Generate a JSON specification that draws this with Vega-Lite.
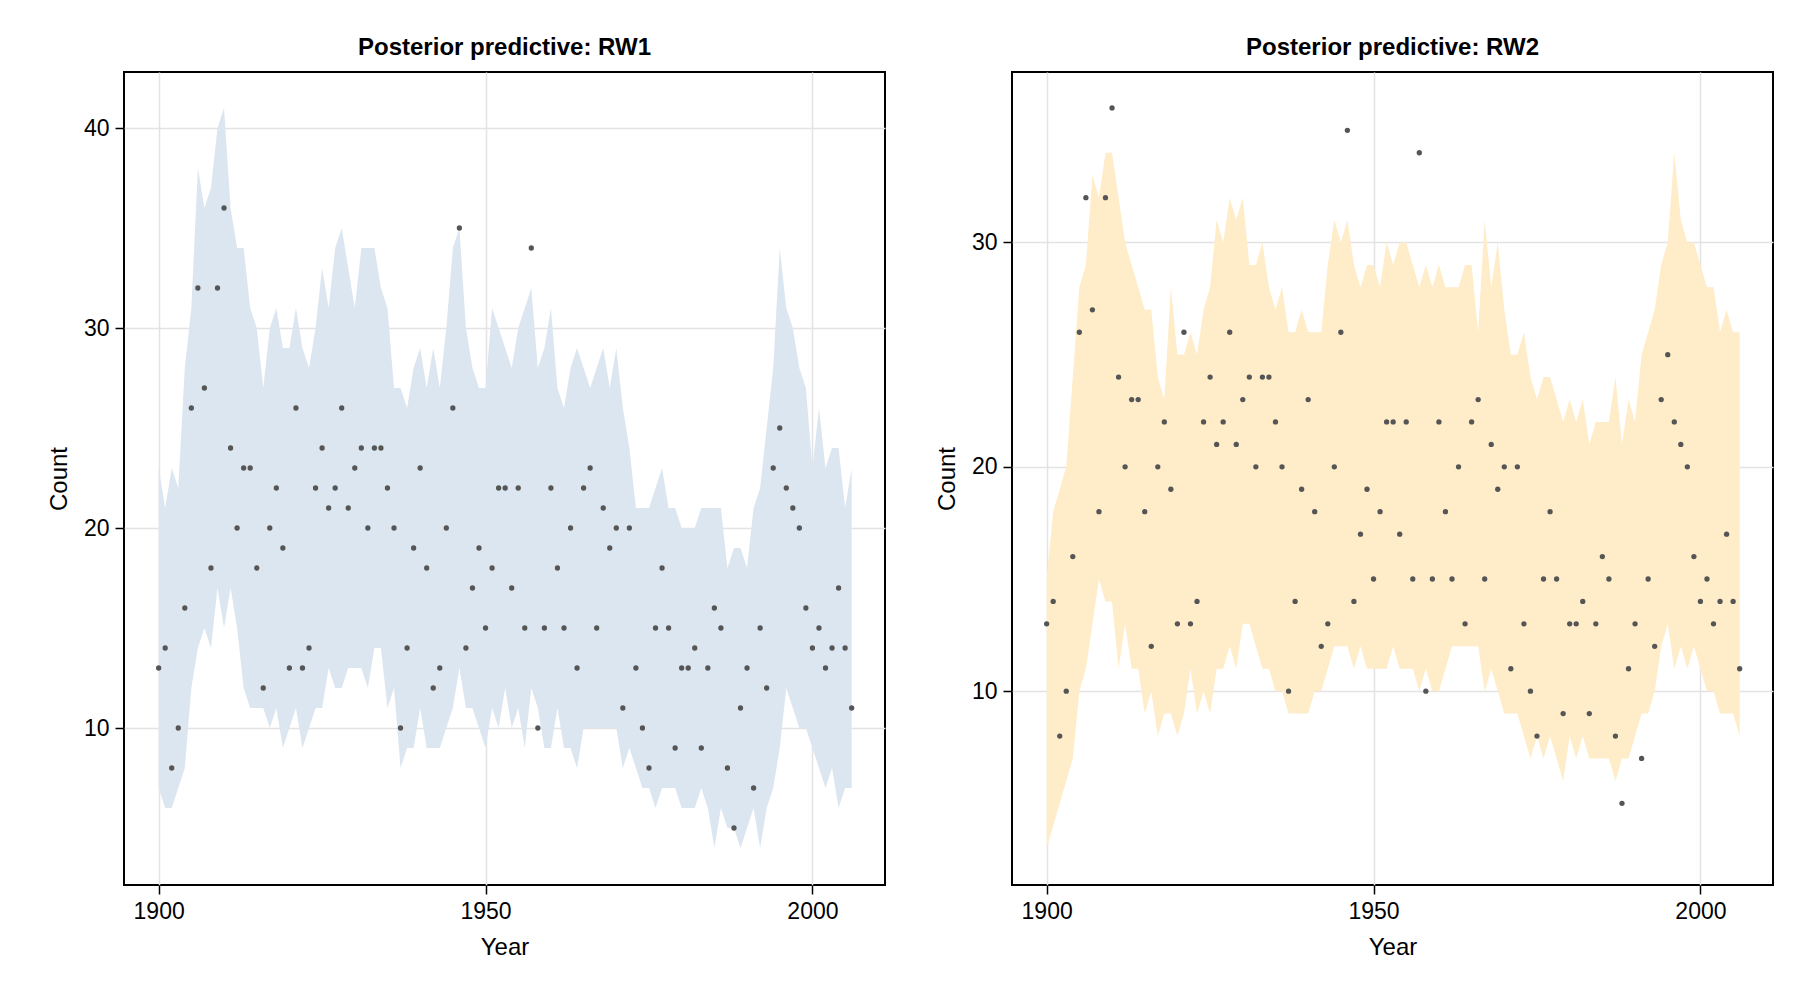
{
"$schema":"https://vega.github.io/schema/vega-lite/v6.json",
"padding":{"left":46,"top":35,"right":10,"bottom":10},
"spacing":48,
"background":"white",
"config":{"font":"Liberation Sans","view":{"stroke":"black","strokeWidth":2},
"axis":{"grid":true,"gridColor":"#e3e3e3","gridWidth":1.5,"domain":false,"tickColor":"black","tickSize":9,"tickWidth":1.5,"labelFontSize":23,"titleFontSize":24,"titleFontWeight":"normal","labelColor":"black","titleColor":"black","labelPadding":6,"titlePadding":12},
"title":{"fontSize":24,"fontWeight":"bold","offset":12}},
"data":{"values":[
{"year":1900,"count":13,"lo1":7,"hi1":23,"lo2":3,"hi2":15},
{"year":1901,"count":14,"lo1":6,"hi1":21,"lo2":4,"hi2":18},
{"year":1902,"count":8,"lo1":6,"hi1":23,"lo2":5,"hi2":19},
{"year":1903,"count":10,"lo1":7,"hi1":22,"lo2":6,"hi2":20},
{"year":1904,"count":16,"lo1":8,"hi1":28,"lo2":7,"hi2":24},
{"year":1905,"count":26,"lo1":12,"hi1":31,"lo2":10,"hi2":28},
{"year":1906,"count":32,"lo1":14,"hi1":38,"lo2":11,"hi2":29},
{"year":1907,"count":27,"lo1":15,"hi1":36,"lo2":13,"hi2":33},
{"year":1908,"count":18,"lo1":14,"hi1":37,"lo2":15,"hi2":32},
{"year":1909,"count":32,"lo1":17,"hi1":40,"lo2":14,"hi2":34},
{"year":1910,"count":36,"lo1":15,"hi1":41,"lo2":14,"hi2":34},
{"year":1911,"count":24,"lo1":17,"hi1":36,"lo2":11,"hi2":32},
{"year":1912,"count":20,"lo1":15,"hi1":34,"lo2":13,"hi2":30},
{"year":1913,"count":23,"lo1":12,"hi1":34,"lo2":11,"hi2":29},
{"year":1914,"count":23,"lo1":11,"hi1":31,"lo2":11,"hi2":28},
{"year":1915,"count":18,"lo1":11,"hi1":30,"lo2":9,"hi2":27},
{"year":1916,"count":12,"lo1":11,"hi1":27,"lo2":10,"hi2":27},
{"year":1917,"count":20,"lo1":10,"hi1":30,"lo2":8,"hi2":24},
{"year":1918,"count":22,"lo1":11,"hi1":31,"lo2":9,"hi2":23},
{"year":1919,"count":19,"lo1":9,"hi1":29,"lo2":9,"hi2":28},
{"year":1920,"count":13,"lo1":10,"hi1":29,"lo2":8,"hi2":25},
{"year":1921,"count":26,"lo1":11,"hi1":31,"lo2":9,"hi2":25},
{"year":1922,"count":13,"lo1":9,"hi1":29,"lo2":11,"hi2":26},
{"year":1923,"count":14,"lo1":10,"hi1":28,"lo2":9,"hi2":25},
{"year":1924,"count":22,"lo1":11,"hi1":30,"lo2":10,"hi2":27},
{"year":1925,"count":24,"lo1":11,"hi1":33,"lo2":9,"hi2":28},
{"year":1926,"count":21,"lo1":13,"hi1":31,"lo2":11,"hi2":31},
{"year":1927,"count":22,"lo1":12,"hi1":34,"lo2":11,"hi2":30},
{"year":1928,"count":26,"lo1":12,"hi1":35,"lo2":12,"hi2":32},
{"year":1929,"count":21,"lo1":13,"hi1":33,"lo2":11,"hi2":31},
{"year":1930,"count":23,"lo1":13,"hi1":31,"lo2":13,"hi2":32},
{"year":1931,"count":24,"lo1":13,"hi1":34,"lo2":13,"hi2":29},
{"year":1932,"count":20,"lo1":12,"hi1":34,"lo2":12,"hi2":29},
{"year":1933,"count":24,"lo1":14,"hi1":34,"lo2":11,"hi2":30},
{"year":1934,"count":24,"lo1":14,"hi1":32,"lo2":11,"hi2":28},
{"year":1935,"count":22,"lo1":11,"hi1":31,"lo2":10,"hi2":27},
{"year":1936,"count":20,"lo1":12,"hi1":27,"lo2":10,"hi2":28},
{"year":1937,"count":10,"lo1":8,"hi1":27,"lo2":9,"hi2":26},
{"year":1938,"count":14,"lo1":9,"hi1":26,"lo2":9,"hi2":26},
{"year":1939,"count":19,"lo1":9,"hi1":28,"lo2":9,"hi2":27},
{"year":1940,"count":23,"lo1":11,"hi1":29,"lo2":9,"hi2":26},
{"year":1941,"count":18,"lo1":9,"hi1":27,"lo2":10,"hi2":26},
{"year":1942,"count":12,"lo1":9,"hi1":29,"lo2":10,"hi2":26},
{"year":1943,"count":13,"lo1":9,"hi1":27,"lo2":11,"hi2":29},
{"year":1944,"count":20,"lo1":10,"hi1":30,"lo2":12,"hi2":31},
{"year":1945,"count":26,"lo1":11,"hi1":34,"lo2":12,"hi2":30},
{"year":1946,"count":35,"lo1":13,"hi1":35,"lo2":12,"hi2":31},
{"year":1947,"count":14,"lo1":11,"hi1":30,"lo2":11,"hi2":29},
{"year":1948,"count":17,"lo1":11,"hi1":28,"lo2":12,"hi2":28},
{"year":1949,"count":19,"lo1":10,"hi1":27,"lo2":11,"hi2":29},
{"year":1950,"count":15,"lo1":9,"hi1":27,"lo2":11,"hi2":29},
{"year":1951,"count":18,"lo1":11,"hi1":31,"lo2":11,"hi2":28},
{"year":1952,"count":22,"lo1":10,"hi1":30,"lo2":11,"hi2":30},
{"year":1953,"count":22,"lo1":12,"hi1":29,"lo2":12,"hi2":29},
{"year":1954,"count":17,"lo1":10,"hi1":28,"lo2":11,"hi2":30},
{"year":1955,"count":22,"lo1":11,"hi1":30,"lo2":11,"hi2":30},
{"year":1956,"count":15,"lo1":9,"hi1":31,"lo2":11,"hi2":29},
{"year":1957,"count":34,"lo1":12,"hi1":32,"lo2":10,"hi2":28},
{"year":1958,"count":10,"lo1":11,"hi1":28,"lo2":11,"hi2":29},
{"year":1959,"count":15,"lo1":9,"hi1":29,"lo2":10,"hi2":28},
{"year":1960,"count":22,"lo1":9,"hi1":31,"lo2":10,"hi2":29},
{"year":1961,"count":18,"lo1":11,"hi1":27,"lo2":11,"hi2":28},
{"year":1962,"count":15,"lo1":9,"hi1":26,"lo2":12,"hi2":28},
{"year":1963,"count":20,"lo1":9,"hi1":28,"lo2":12,"hi2":28},
{"year":1964,"count":13,"lo1":8,"hi1":29,"lo2":12,"hi2":29},
{"year":1965,"count":22,"lo1":10,"hi1":28,"lo2":12,"hi2":29},
{"year":1966,"count":23,"lo1":10,"hi1":27,"lo2":12,"hi2":26},
{"year":1967,"count":15,"lo1":10,"hi1":28,"lo2":10,"hi2":31},
{"year":1968,"count":21,"lo1":10,"hi1":29,"lo2":11,"hi2":28},
{"year":1969,"count":19,"lo1":10,"hi1":27,"lo2":10,"hi2":30},
{"year":1970,"count":20,"lo1":10,"hi1":29,"lo2":9,"hi2":27},
{"year":1971,"count":11,"lo1":8,"hi1":26,"lo2":9,"hi2":25},
{"year":1972,"count":20,"lo1":9,"hi1":24,"lo2":9,"hi2":25},
{"year":1973,"count":13,"lo1":8,"hi1":21,"lo2":8,"hi2":26},
{"year":1974,"count":10,"lo1":7,"hi1":21,"lo2":7,"hi2":24},
{"year":1975,"count":8,"lo1":7,"hi1":21,"lo2":8,"hi2":23},
{"year":1976,"count":15,"lo1":6,"hi1":22,"lo2":7,"hi2":24},
{"year":1977,"count":18,"lo1":7,"hi1":23,"lo2":8,"hi2":24},
{"year":1978,"count":15,"lo1":7,"hi1":21,"lo2":7,"hi2":23},
{"year":1979,"count":9,"lo1":7,"hi1":21,"lo2":6,"hi2":22},
{"year":1980,"count":13,"lo1":6,"hi1":20,"lo2":8,"hi2":23},
{"year":1981,"count":13,"lo1":6,"hi1":20,"lo2":7,"hi2":22},
{"year":1982,"count":14,"lo1":6,"hi1":20,"lo2":8,"hi2":23},
{"year":1983,"count":9,"lo1":7,"hi1":21,"lo2":7,"hi2":21},
{"year":1984,"count":13,"lo1":6,"hi1":21,"lo2":7,"hi2":22},
{"year":1985,"count":16,"lo1":4,"hi1":21,"lo2":7,"hi2":22},
{"year":1986,"count":15,"lo1":6,"hi1":21,"lo2":7,"hi2":22},
{"year":1987,"count":8,"lo1":5,"hi1":18,"lo2":6,"hi2":24},
{"year":1988,"count":5,"lo1":5,"hi1":19,"lo2":7,"hi2":21},
{"year":1989,"count":11,"lo1":4,"hi1":19,"lo2":7,"hi2":23},
{"year":1990,"count":13,"lo1":5,"hi1":18,"lo2":8,"hi2":22},
{"year":1991,"count":7,"lo1":6,"hi1":21,"lo2":9,"hi2":25},
{"year":1992,"count":15,"lo1":4,"hi1":22,"lo2":9,"hi2":26},
{"year":1993,"count":12,"lo1":6,"hi1":25,"lo2":10,"hi2":27},
{"year":1994,"count":23,"lo1":7,"hi1":28,"lo2":12,"hi2":29},
{"year":1995,"count":25,"lo1":9,"hi1":34,"lo2":13,"hi2":30},
{"year":1996,"count":22,"lo1":12,"hi1":31,"lo2":11,"hi2":34},
{"year":1997,"count":21,"lo1":11,"hi1":30,"lo2":12,"hi2":31},
{"year":1998,"count":20,"lo1":10,"hi1":28,"lo2":11,"hi2":30},
{"year":1999,"count":16,"lo1":10,"hi1":27,"lo2":12,"hi2":30},
{"year":2000,"count":14,"lo1":9,"hi1":23,"lo2":11,"hi2":29},
{"year":2001,"count":15,"lo1":8,"hi1":26,"lo2":10,"hi2":28},
{"year":2002,"count":13,"lo1":7,"hi1":23,"lo2":10,"hi2":28},
{"year":2003,"count":14,"lo1":8,"hi1":24,"lo2":9,"hi2":26},
{"year":2004,"count":17,"lo1":6,"hi1":24,"lo2":9,"hi2":27},
{"year":2005,"count":14,"lo1":7,"hi1":21,"lo2":9,"hi2":26},
{"year":2006,"count":11,"lo1":7,"hi1":23,"lo2":8,"hi2":26}
]},
"hconcat":[
{"width":761,"height":813,"title":"Posterior predictive: RW1",
"layer":[
{"mark":{"type":"area","color":"#dce6f0","opacity":1},
"encoding":{"x":{"field":"year","type":"quantitative","scale":{"domain":[1894.7,2011.1],"nice":false,"zero":false},"axis":{"values":[1900,1950,2000],"title":"Year","format":"d"}},
"y":{"field":"lo1","type":"quantitative","scale":{"domain":[2.15,42.8],"nice":false,"zero":false},"axis":{"values":[10,20,30,40],"title":"Count"}},"y2":{"field":"hi1"}}},
{"mark":{"type":"circle","color":"#555555","size":28,"opacity":1},
"encoding":{"x":{"field":"year","type":"quantitative"},"y":{"field":"count","type":"quantitative"}}}
]},
{"width":761,"height":813,"title":"Posterior predictive: RW2",
"layer":[
{"mark":{"type":"area","color":"#ffecc8","opacity":1},
"encoding":{"x":{"field":"year","type":"quantitative","scale":{"domain":[1894.7,2011.1],"nice":false,"zero":false},"axis":{"values":[1900,1950,2000],"title":"Year","format":"d"}},
"y":{"field":"lo2","type":"quantitative","scale":{"domain":[1.36,37.6],"nice":false,"zero":false},"axis":{"values":[10,20,30],"title":"Count"}},"y2":{"field":"hi2"}}},
{"mark":{"type":"circle","color":"#555555","size":28,"opacity":1},
"encoding":{"x":{"field":"year","type":"quantitative"},"y":{"field":"count","type":"quantitative"}}}
]}
]
}
